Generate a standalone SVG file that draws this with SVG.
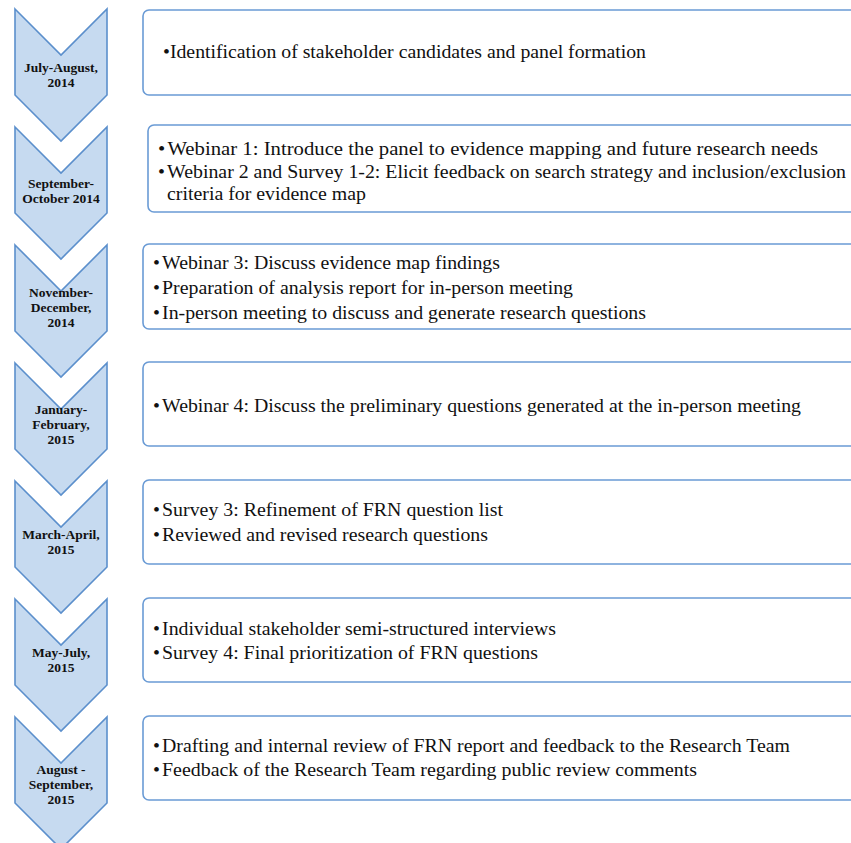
<svg xmlns="http://www.w3.org/2000/svg" width="851" height="843" viewBox="0 0 851 843">
<defs>
<style>
.chev{fill:#c6daf0;stroke:#5b8fcc;stroke-width:1.6;stroke-linejoin:miter}
.box{fill:#ffffff;stroke:#6a9bd5;stroke-width:1.6}
.lbl{font-weight:bold;font-size:13.5px;fill:#111;text-anchor:middle}
.txt{font-size:19px;fill:#111}
</style>
<path id="chevshape" d="M15,0 L61,46 L107,0 L107,86 L61,132 L15,86 Z"/>
</defs>
<rect width="851" height="843" fill="#ffffff"/>
<g id="connectors"></g>

<g font-family="'Liberation Serif', 'Times New Roman', Times, serif">
<g id="step1">
<use href="#chevshape" class="chev" transform="translate(0,9)"/>
<text class="lbl" x="61" y="72">July-August,</text>
<text class="lbl" x="61" y="87">2014</text>
<rect class="box" x="143" y="10" width="720" height="85" rx="6"/>
<text class="txt" x="163" y="58" textLength="483" lengthAdjust="spacingAndGlyphs">•Identification of stakeholder candidates and panel formation</text>
</g>

<g id="step2">
<use href="#chevshape" class="chev" transform="translate(0,127)"/>
<text class="lbl" x="61" y="188">September-</text>
<text class="lbl" x="61" y="203">October 2014</text>
<rect class="box" x="148" y="125" width="715" height="87" rx="6"/>
<text class="txt" x="158" y="155" textLength="660" lengthAdjust="spacingAndGlyphs">•<tspan dx="2">Webinar 1: Introduce the panel to evidence mapping and future research needs</tspan></text>
<text class="txt" x="158" y="178" textLength="688" lengthAdjust="spacingAndGlyphs">•<tspan dx="2">Webinar 2 and Survey 1-2: Elicit feedback on search strategy and inclusion/exclusion</tspan></text>
<text class="txt" x="167" y="200" textLength="199" lengthAdjust="spacingAndGlyphs">criteria for evidence map</text>
</g>

<g id="step3">
<use href="#chevshape" class="chev" transform="translate(0,245)"/>
<text class="lbl" x="61" y="297">November-</text>
<text class="lbl" x="61" y="312">December,</text>
<text class="lbl" x="61" y="327">2014</text>
<rect class="box" x="143" y="244" width="720" height="85" rx="6"/>
<text class="txt" x="153" y="269" textLength="347" lengthAdjust="spacingAndGlyphs">•<tspan dx="2">Webinar 3: Discuss evidence map findings</tspan></text>
<text class="txt" x="153" y="294" textLength="420" lengthAdjust="spacingAndGlyphs">•<tspan dx="2">Preparation of analysis report for in-person meeting</tspan></text>
<text class="txt" x="153" y="319" textLength="493" lengthAdjust="spacingAndGlyphs">•<tspan dx="2">In-person meeting to discuss and generate research questions</tspan></text>
</g>

<g id="step4">
<use href="#chevshape" class="chev" transform="translate(0,363)"/>
<text class="lbl" x="61" y="414">January-</text>
<text class="lbl" x="61" y="429">February,</text>
<text class="lbl" x="61" y="444">2015</text>
<rect class="box" x="143" y="362" width="720" height="84" rx="6"/>
<text class="txt" x="153" y="412" textLength="648" lengthAdjust="spacingAndGlyphs">•<tspan dx="2">Webinar 4: Discuss the preliminary questions generated at the in-person meeting</tspan></text>
</g>

<g id="step5">
<use href="#chevshape" class="chev" transform="translate(0,481)"/>
<text class="lbl" x="61" y="539">March-April,</text>
<text class="lbl" x="61" y="554">2015</text>
<rect class="box" x="143" y="480" width="720" height="84" rx="6"/>
<text class="txt" x="153" y="516" textLength="350" lengthAdjust="spacingAndGlyphs">•<tspan dx="2">Survey 3: Refinement of FRN question list</tspan></text>
<text class="txt" x="153" y="541" textLength="335" lengthAdjust="spacingAndGlyphs">•<tspan dx="2">Reviewed and revised research questions</tspan></text>
</g>

<g id="step6">
<use href="#chevshape" class="chev" transform="translate(0,599)"/>
<text class="lbl" x="61" y="657">May-July,</text>
<text class="lbl" x="61" y="672">2015</text>
<rect class="box" x="143" y="598" width="720" height="84" rx="6"/>
<text class="txt" x="153" y="635" textLength="403" lengthAdjust="spacingAndGlyphs">•<tspan dx="2">Individual stakeholder semi-structured interviews</tspan></text>
<text class="txt" x="153" y="659" textLength="385" lengthAdjust="spacingAndGlyphs">•<tspan dx="2">Survey 4: Final prioritization of FRN questions</tspan></text>
</g>

<g id="step7">
<use href="#chevshape" class="chev" transform="translate(0,717)"/>
<text class="lbl" x="61" y="774">August -</text>
<text class="lbl" x="61" y="789">September,</text>
<text class="lbl" x="61" y="804">2015</text>
<rect class="box" x="143" y="716" width="720" height="84" rx="6"/>
<text class="txt" x="153" y="752" textLength="637" lengthAdjust="spacingAndGlyphs">•<tspan dx="2">Drafting and internal review of FRN report and feedback to the Research Team</tspan></text>
<text class="txt" x="153" y="776" textLength="544" lengthAdjust="spacingAndGlyphs">•<tspan dx="2">Feedback of the Research Team regarding public review comments</tspan></text>
</g>
</g>
</svg>
